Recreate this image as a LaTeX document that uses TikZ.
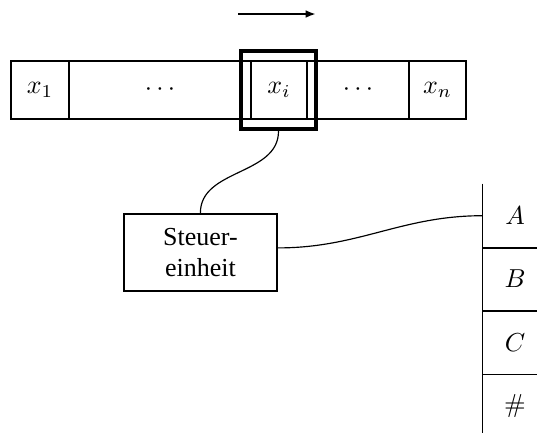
\documentclass[tikz,border=0pt]{standalone}
\usepackage[no-math]{fontspec}
\setmainfont{Liberation Serif}
\usetikzlibrary{arrows.meta}

\begin{document}
\begin{tikzpicture}[x=0.385pt,y=-0.385pt,
  cell/.style={draw,line width=0.8pt,minimum height=58*0.385pt,inner sep=0pt},
  headbox/.style={draw,line width=1.7pt,minimum width=75*0.385pt,minimum height=78*0.385pt,inner sep=0pt},
  ctrlbox/.style={draw,line width=0.8pt,minimum width=153*0.385pt,minimum height=77*0.385pt,align=center,inner sep=0pt},
  sym/.style={minimum width=64*0.385pt,minimum height=63.3*0.385pt,inner sep=0pt},
  symline/.style={line width=0.6pt},
  wire/.style={line width=0.45pt},
  move/.style={line width=0.8pt,-{Latex[length=4pt,width=3pt]}}]
\useasboundingbox (0,0) rectangle (537,432);

% input tape
\node[cell,minimum width=58*0.385pt]  (c1) at (40,90)    {$x_1$};
\node[cell,minimum width=182*0.385pt] (c2) at (160,90)   {$\cdots$};
\node[cell,minimum width=56*0.385pt]  (c3) at (279,90)   {$x_i$};
\node[cell,minimum width=102*0.385pt] (c4) at (358,90)   {$\cdots$};
\node[cell,minimum width=57*0.385pt]  (c5) at (437.5,90) {$x_n$};

% read head and direction of movement
\node[headbox] (head) at (278.5,90) {};
\coordinate (mvL) at (238,14);
\coordinate (mvR) at (316,14);
\draw[move] (mvL) -- (mvR);

% control unit
\node[ctrlbox] (ctrl) at (200.4,252.4) {Steuer-\\einheit};

% stack of symbols
\node[sym] (tA) at (515,215.7) {$A$};
\node[sym] (tB) at (515,279)   {$B$};
\node[sym] (tC) at (515,342.3) {$C$};
\node[sym] (tH) at (515,405.6) {$\#$};
\draw[symline] (tA.north west) -- (tH.south west);
\draw[symline] (tA.south west) -- (tA.south east);
\draw[symline] (tB.south west) -- (tB.south east);
\draw[symline] (tC.south west) -- (tC.south east);

% connections
\draw[wire] (ctrl.north) to[out=90,in=-90] (head.south);
\draw[wire] ([yshift=4.5*0.385pt]ctrl.east) to[out=0,in=180] (tA.west);
\end{tikzpicture}
\end{document}
